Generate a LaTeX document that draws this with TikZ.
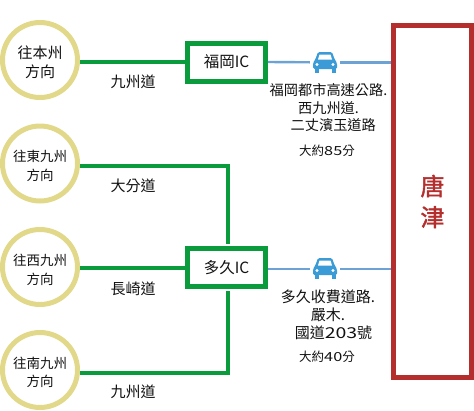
\documentclass[tikz,border=0pt]{standalone}
\usepackage{fontspec}
\setmainfont{Noto Sans CJK TC}
\newfontfamily\widefont[FakeStretch=1.3]{Noto Sans CJK TC}
\newfontfamily\semifont[FakeBold=1.8]{Noto Sans CJK TC}
\definecolor{gline}{HTML}{0A9B3C}
\definecolor{gbox}{HTML}{0A9B3C}
\definecolor{ring}{HTML}{E2D88A}
\definecolor{redb}{HTML}{B52E2E}
\definecolor{bline}{HTML}{6CA3D4}
\definecolor{carb}{HTML}{3A9BD6}
\definecolor{txt}{HTML}{111111}
\tikzset{
  dirnode/.style={circle,draw=ring,line width=5pt,minimum size=75pt,inner sep=0pt},
  dirtext/.style={inner sep=0pt,align=center,font=\fontsize{13.5}{18.5}\selectfont,text=txt},
  icbox/.style={rectangle,draw=gbox,line width=5pt,minimum width=78pt,minimum height=38pt,inner sep=0pt,font=\fontsize{15.5}{17}\selectfont,text=txt},
  destbox/.style={rectangle,draw=redb,line width=5pt,minimum width=78pt,minimum height=352pt,inner sep=0pt,align=center,font=\semifont\fontsize{24}{31}\selectfont,text=redb},
  greenline/.style={draw=gline,line width=4pt},
  blueline/.style={draw=bline,line width=2.4pt},
  roadlabel/.style={font=\fontsize{15}{17}\selectfont,text=txt,inner sep=0pt},
  routelabel/.style={font=\fontsize{14.2}{17.5}\selectfont,text=txt,inner sep=0pt,align=center},
  routelabelb/.style={font=\fontsize{15}{18}\selectfont,text=txt,inner sep=0pt,align=center},
  timelabel/.style={font=\fontsize{12.5}{14}\selectfont,text=txt,inner sep=0pt},
  carslot/.style={rectangle,minimum width=30pt,minimum height=20pt,inner sep=0pt},
  carshape/.pic={
    \fill[carb,rounded corners=1.5pt] (-12,1) -- (-9.5,-3) -- (-7,-10) -- (7,-10) -- (9.5,-3) -- (12,1) -- (12,7) -- (-12,7) -- cycle;
    \fill[carb] (-10.5,6) rectangle (-6.5,11);
    \fill[carb] (6.5,6) rectangle (10.5,11);
    \fill[white] (-5.5,-7.5) -- (5.5,-7.5) -- (7,-2.5) -- (-7,-2.5) -- cycle;
    \fill[white] (-8,2.5) circle (1.6);
    \fill[white] (8,2.5) circle (1.6);
  }
}
\begin{document}
\begin{tikzpicture}[x=1pt,y=-1pt]
\useasboundingbox (0,0) rectangle (474,410);
\node[dirnode] (north) at (40,60) {};
\node[dirnode] (east)  at (40,163.5) {};
\node[dirnode] (west)  at (40,267) {};
\node[dirnode] (south) at (40,370) {};
\node[dirtext,font=\fontsize{15}{19.5}\selectfont] (northt) at (40,62.5) {往本州\\方向};
\node[dirtext] (eastt)  at (40,166) {往東九州\\方向};
\node[dirtext] (westt)  at (40,270) {往西九州\\方向};
\node[dirtext] (southt) at (40,372.5) {往南九州\\方向};
\node[icbox] (fuk) at (226.5,62) {\raisebox{-1pt}{福岡IC}};
\node[icbox] (taku) at (226.5,267.5) {\raisebox{-1pt}{多久IC}};
\node[destbox] (kara) at (432.5,201.5) {唐\\津};
\node[carslot] (car1) at (325,62.3) {};
\node[carslot] (car2) at (325,269) {};
\pic at (325,62) {carshape};
\pic at (325,268) {carshape};
\draw[greenline] (north.east |- fuk.west) -- (fuk.west);
\draw[greenline] (east.east |- 0,166) -- (228,166) -- (228,244);
\draw[greenline] (west.east |- taku.west) -- (taku.west);
\draw[greenline] (228,291) -- (228,373) -- (south.east |- 0,373);
\draw[blueline] (fuk.east) -- (car1.west);
\draw[blueline] (car1.east) -- (car1.east -| kara.west);
\draw[blueline] (taku.east |- car2.west) -- (car2.west);
\draw[blueline] (car2.east) -- (car2.east -| kara.west);
\node[roadlabel] (r1) at (133,82) {九州道};
\node[roadlabel] (r2) at (133,185.5) {大分道};
\node[roadlabel] (r3) at (133,288.5) {長崎道};
\node[roadlabel] (r4) at (133,391.5) {九州道};
\node[routelabel] (a1) at (328.5,108) {福岡都市高速公路.\\西九州道.\\\hspace*{9.5pt}二丈濱玉道路};
\node[timelabel] (t1) at (327,151) {大約{\widefont 85}分};
\node[routelabelb] (a2) at (328,315) {多久收費道路.\\嚴木.\\\hspace*{11pt}國道{\widefont 203}號};
\node[timelabel] (t2) at (327,357) {大約{\widefont 40}分};
\end{tikzpicture}
\end{document}
